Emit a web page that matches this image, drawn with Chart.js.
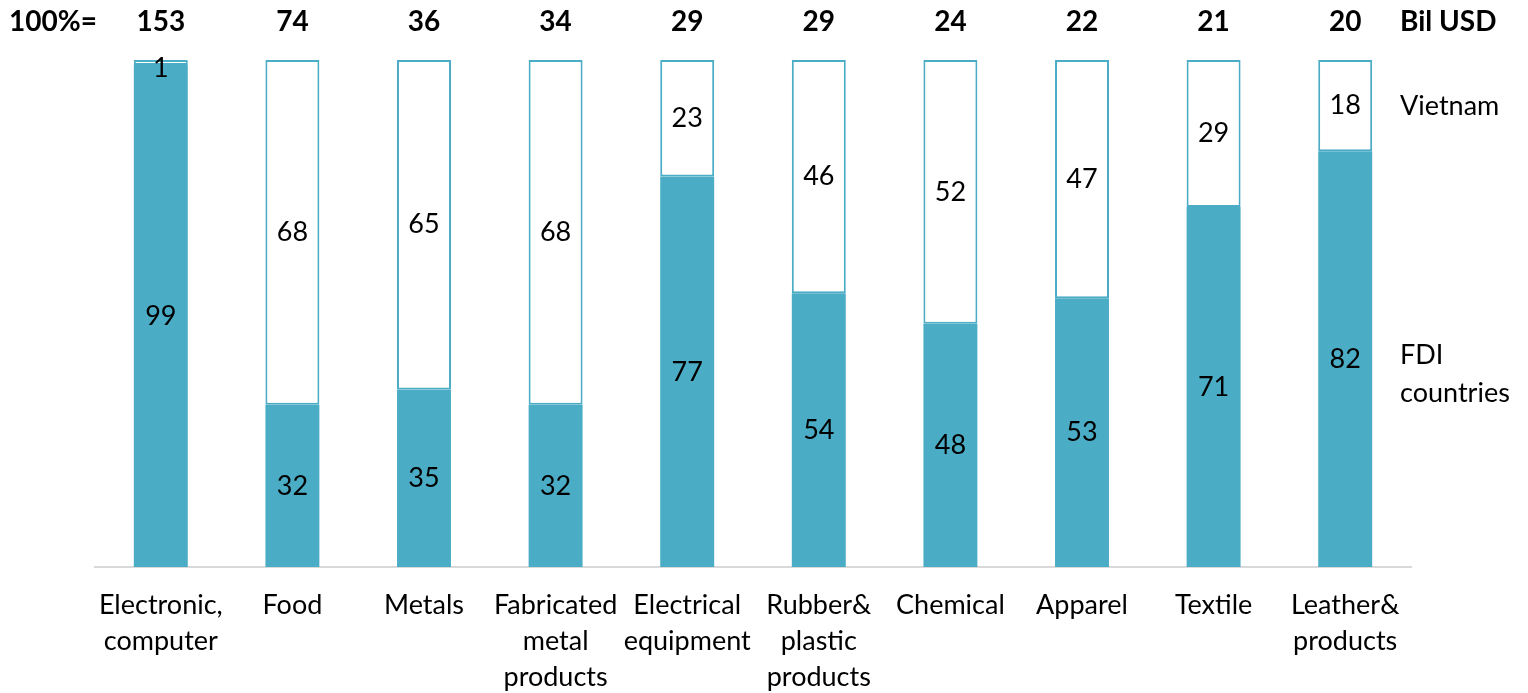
<!DOCTYPE html>
<html>
<head>
<meta charset="utf-8">
<script src="https://cdn.jsdelivr.net/npm/chart.js@4/dist/chart.umd.min.js"></script>
<style>
html,body{margin:0;padding:0;background:#fff;}
#c{display:block;}
</style>
</head>
<body>
<canvas id="c" width="1528" height="693"></canvas>
<script>
const categories = [
  ["Electronic,", "computer"],
  ["Food"],
  ["Metals"],
  ["Fabricated", "metal", "products"],
  ["Electrical", "equipment"],
  ["Rubber&", "plastic", "products"],
  ["Chemical"],
  ["Apparel"],
  ["Textile"],
  ["Leather&", "products"]
];
const totals = [153, 74, 36, 34, 29, 29, 24, 22, 21, 20];
const fdiShare = [99, 32, 35, 32, 77, 54, 48, 53, 71, 82];
const vietnamShare = [1, 68, 65, 68, 23, 46, 52, 47, 29, 18];
const seriesNames = ["FDI countries", "Vietnam"];
const unitLabel = "Bil USD";
const totalHeader = "100%=";

const FONT = "Lato, 'Open Sans', sans-serif";
const TEAL = "#4BACC6";

const textPlugin = {
  id: 'texts',
  afterDatasetsDraw(chart) {
    const ctx = chart.ctx;
    ctx.save();
    ctx.fillStyle = '#000';
    ctx.textAlign = 'center';
    ctx.textBaseline = 'middle';
    ctx.font = "27px " + FONT;
    chart.data.datasets.forEach((ds, di) => {
      const meta = chart.getDatasetMeta(di);
      meta.data.forEach((bar, i) => {
        const v = ds.data[i];
        let yy = (bar.y + bar.base) / 2;
        if (v < 5) yy = bar.y + 8;
        ctx.fillText(String(v), bar.x, yy);
      });
    });
    const xs = chart.scales.x;
    ctx.font = "bold 28px " + FONT;
    totals.forEach((t, i) => {
      ctx.fillText(String(t), xs.getPixelForValue(i), 22);
    });
    ctx.textAlign = 'left';
    ctx.fillText(totalHeader, 9, 22);
    ctx.fillText(unitLabel, 1400, 22);
    ctx.font = "27px " + FONT;
    ctx.fillText(seriesNames[1], 1400, 106);
    ctx.fillText("FDI", 1400, 355);
    ctx.fillText("countries", 1400, 393);
    ctx.restore();
  }
};

new Chart(document.getElementById('c'), {
  type: 'bar',
  data: {
    labels: categories,
    datasets: [
      {
        label: seriesNames[0],
        data: fdiShare,
        backgroundColor: TEAL,
        borderWidth: 0,
        barPercentage: 0.41,
        categoryPercentage: 1
      },
      {
        label: seriesNames[1],
        data: vietnamShare,
        backgroundColor: '#ffffff',
        borderColor: TEAL,
        borderWidth: 2,
        borderSkipped: false,
        barPercentage: 0.41,
        categoryPercentage: 1
      }
    ]
  },
  options: {
    responsive: false,
    animation: false,
    devicePixelRatio: 1,
    layout: { padding: { left: 95, right: 117, top: 60, bottom: 0 } },
    plugins: { legend: { display: false }, tooltip: { enabled: false } },
    scales: {
      x: {
        stacked: true,
        grid: { display: false, drawTicks: false },
        border: { display: true, color: '#d9d9d9', width: 2 },
        afterFit(scale) { scale.height = 126; },
        ticks: {
          color: '#000',
          font: { family: FONT, size: 27, lineHeight: 1.333 },
          padding: 20,
          maxRotation: 0,
          autoSkip: false
        }
      },
      y: {
        stacked: true,
        min: 0,
        max: 100,
        display: false
      }
    }
  },
  plugins: [textPlugin]
});
</script>
</body>
</html>
